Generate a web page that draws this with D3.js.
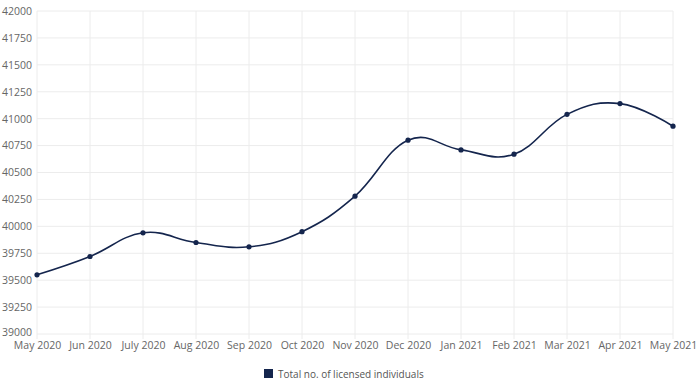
<!DOCTYPE html>
<html>
<head>
<meta charset="utf-8">
<script src="https://cdn.jsdelivr.net/npm/d3@7"></script>
<style>
  body { margin: 0; background: #fff; }
  #vis text { font-family: "Open Sans", sans-serif; }
</style>
</head>
<body>
<div id="vis"></div>
<script>
// chart data
const months = ["May 2020", "Jun 2020", "July 2020", "Aug 2020", "Sep 2020", "Oct 2020",
  "Nov 2020", "Dec 2020", "Jan 2021", "Feb 2021", "Mar 2021", "Apr 2021", "May 2021"];
const licensed = [39550, 39720, 39940, 39850, 39810, 39950,
  40280, 40800, 40710, 40670, 41040, 41140, 40930];
const yTicks = [39000, 39250, 39500, 39750, 40000, 40250, 40500, 40750, 41000, 41250, 41500, 41750, 42000];
const seriesName = "Total no. of licensed individuals";

const lineColor = "#14254d";
const gridColor = "#ececec";
const textColor = "#666";

var width = 700, height = 387;
var margin = { top: 11, right: 27, bottom: 53, left: 37 };

var svg = d3.select("#vis")
  .append("svg")
  .attr("width", width)
  .attr("height", height);

var x = d3.scalePoint()
  .domain(months)
  .range([margin.left, width - margin.right]);

var y = d3.scaleLinear()
  .domain([39000, 42000])
  .range([height - margin.bottom, margin.top]);

// grid lines
svg.append("g")
  .selectAll("line")
  .data(yTicks)
  .enter()
  .append("line")
  .attr("x1", margin.left)
  .attr("x2", width - margin.right)
  .attr("y1", d => y(d))
  .attr("y2", d => y(d))
  .attr("stroke", gridColor);

svg.append("g")
  .selectAll("line")
  .data(months)
  .enter()
  .append("line")
  .attr("x1", d => x(d))
  .attr("x2", d => x(d))
  .attr("y1", margin.top)
  .attr("y2", height - margin.bottom + 5)
  .attr("stroke", gridColor);

// y axis labels
var yAxis = svg.append("g")
  .attr("transform", "translate(" + (margin.left) + ",0)")
  .call(d3.axisLeft(y).tickValues(yTicks).tickSize(0).tickPadding(5).tickFormat(d3.format("d")));
yAxis.select(".domain").remove();
yAxis.selectAll("text").attr("fill", textColor).style("font-size", "10.5px");
// lift the bottom label a touch so it clears the first month label
yAxis.selectAll(".tick").filter(d => d === 39000).select("text").attr("dy", "0.1em");

// x axis labels
var xAxis = svg.append("g")
  .attr("transform", "translate(0," + (height - margin.bottom) + ")")
  .call(d3.axisBottom(x).tickSize(0).tickPadding(8));
xAxis.select(".domain").remove();
xAxis.selectAll("text").attr("fill", textColor).style("font-size", "10.5px");

// the line
var line = d3.line()
  .x((d, i) => x(months[i]))
  .y(d => y(d))
  .curve(d3.curveCardinal.tension(-0.2));

svg.append("path")
  .datum(licensed)
  .attr("fill", "none")
  .attr("stroke", lineColor)
  .attr("stroke-width", 1.6)
  .attr("d", line);

svg.append("g")
  .selectAll("circle")
  .data(licensed)
  .enter()
  .append("circle")
  .attr("cx", (d, i) => x(months[i]))
  .attr("cy", d => y(d))
  .attr("r", 2.6)
  .attr("fill", lineColor);

// legend
var legend = svg.append("g").attr("transform", "translate(264,369)");
legend.append("rect")
  .attr("width", 9)
  .attr("height", 9)
  .attr("fill", lineColor);
legend.append("text")
  .attr("x", 14)
  .attr("y", 8.5)
  .attr("fill", "#555")
  .style("font-size", "10px")
  .text(seriesName);
</script>
</body>
</html>
